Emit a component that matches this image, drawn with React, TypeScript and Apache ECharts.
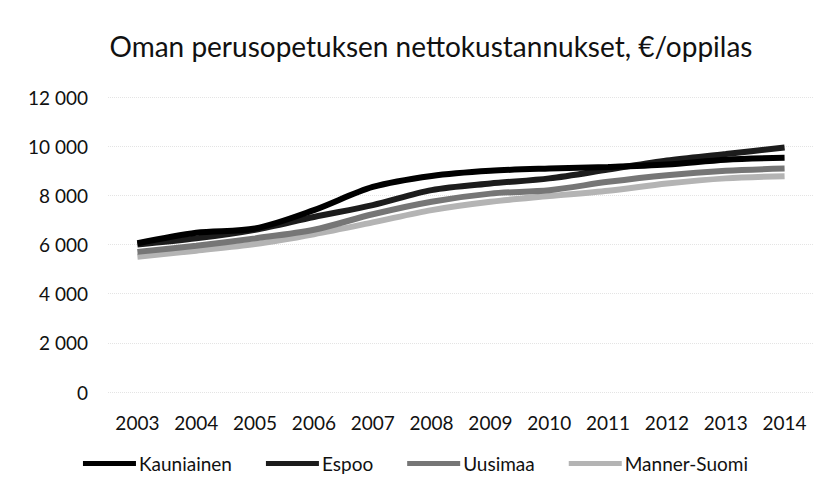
import React, { useEffect, useRef } from "react";
import * as echarts from "echarts";

const years = ["2003", "2004", "2005", "2006", "2007", "2008", "2009", "2010", "2011", "2012", "2013", "2014"];
const kauniainen = [6050, 6480, 6650, 7400, 8340, 8790, 9000, 9090, 9150, 9250, 9450, 9530];
const espoo = [6000, 6250, 6600, 7120, 7600, 8210, 8480, 8690, 9050, 9420, 9680, 9950];
const uusimaa = [5700, 5950, 6250, 6600, 7230, 7740, 8070, 8210, 8550, 8820, 9000, 9090];
const mannerSuomi = [5500, 5750, 6020, 6420, 6900, 7400, 7740, 7970, 8190, 8480, 8690, 8780];

const seriesNames = ["Kauniainen", "Espoo", "Uusimaa", "Manner-Suomi"];
const seriesData = [kauniainen, espoo, uusimaa, mannerSuomi];
const seriesColors = ["#000000", "#1c1c1c", "#767676", "#b4b4b4"];

const FONT = "Lato, 'Open Sans', sans-serif";

export default function App() {
  const ref = useRef<HTMLDivElement>(null);
  useEffect(() => {
    if (!ref.current) return;
    const chart = echarts.init(ref.current, null, { renderer: "svg" });
    chart.setOption({
      animation: false,
      backgroundColor: "#ffffff",
      title: {
        text: "Oman perusopetuksen nettokustannukset, €/oppilas",
        left: 426,
        textAlign: "center",
        top: 27,
        textStyle: { fontFamily: FONT, fontSize: 28, fontWeight: "normal", color: "#111" },
      },
      legend: {
        data: seriesNames,
        top: 449,
        left: "center",
        icon: "rect",
        itemWidth: 53,
        itemHeight: 5,
        itemGap: 34,
        textStyle: { fontFamily: FONT, fontSize: 19, color: "#111", padding: [0, 0, 0, -2] },
      },
      grid: { left: 108, right: 17, top: 97, bottom: 90, containLabel: false },
      xAxis: {
        type: "category",
        data: years,
        boundaryGap: true,
        axisLine: { show: false },
        axisTick: { show: false },
        axisLabel: { fontFamily: FONT, fontSize: 19, color: "#111", margin: 21 },
      },
      yAxis: {
        type: "value",
        min: 0,
        max: 12000,
        interval: 2000,
        axisLine: { show: false },
        axisTick: { show: false },
        splitLine: { show: true, lineStyle: { color: "#e4e4e4", width: 1, type: "dotted" } },
        axisLabel: {
          fontFamily: FONT,
          fontSize: 19,
          color: "#111",
          margin: 20,
          formatter: (v: number) => String(v).replace(/\B(?=(\d{3})+(?!\d))/g, " "),
        },
      },
      series: seriesNames.map((name, i) => ({
        name,
        type: "line",
        data: seriesData[i],
        symbol: "none",
        smooth: 0.3,
        lineStyle: { width: 6, color: seriesColors[i] },
        itemStyle: { color: seriesColors[i] },
        z: 10 - i,
      })),
    });
    return () => chart.dispose();
  }, []);
  return (
    <div
      ref={ref}
      style={{ position: "fixed", left: 0, top: 0, width: 831, height: 482 }}
    />
  );
}
